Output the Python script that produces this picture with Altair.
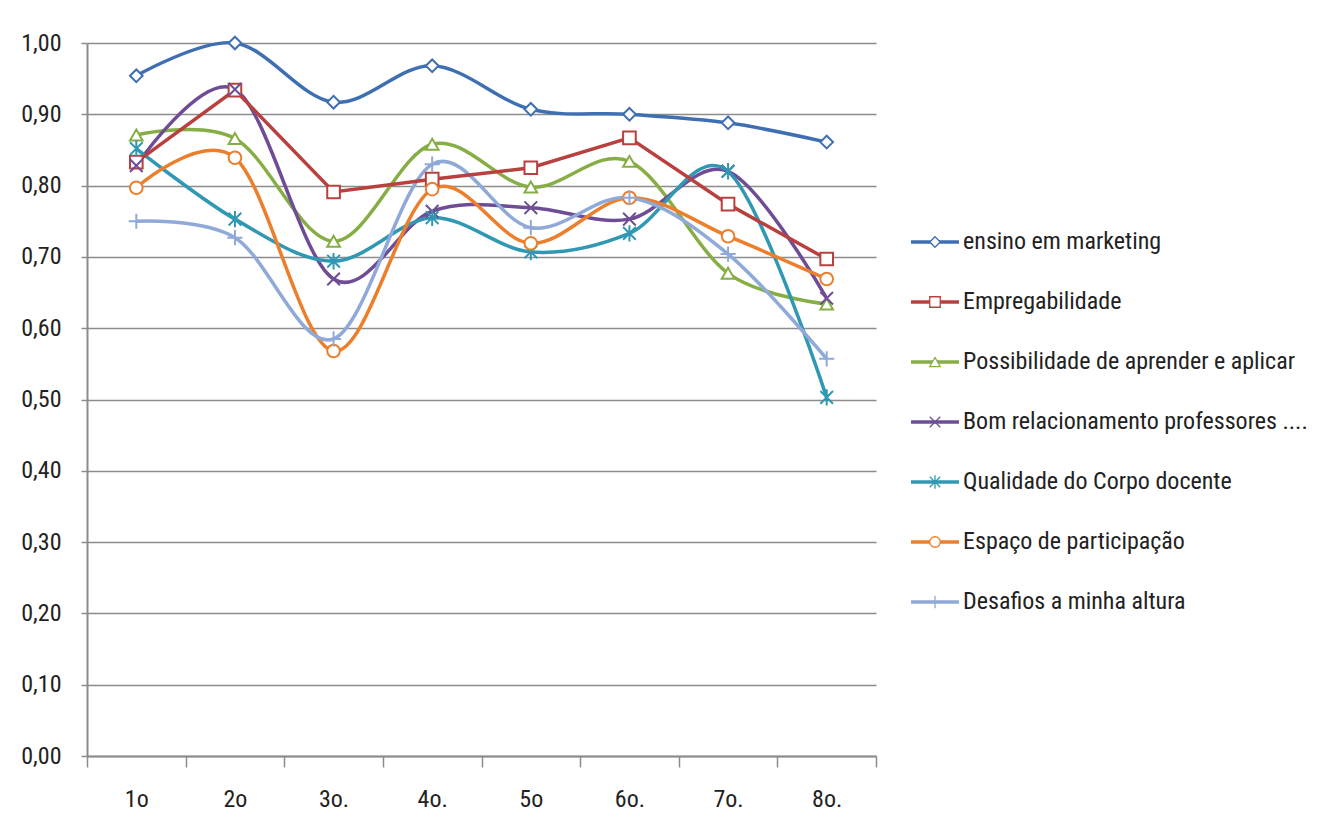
import altair as alt
import pandas as pd

categories = ["1o", "2o", "3o.", "4o.", "5o", "6o.", "7o.", "8o."]
series = [
    "ensino em marketing",
    "Empregabilidade",
    "Possibilidade de aprender e aplicar",
    "Bom relacionamento professores ....",
    "Qualidade do Corpo docente",
    "Espaço de participação",
    "Desafios a minha altura",
]
ensino = [0.954, 1.000, 0.917, 0.968, 0.907, 0.900, 0.888, 0.861]
empregabilidade = [0.833, 0.934, 0.791, 0.809, 0.825, 0.867, 0.774, 0.697]
possibilidade = [0.871, 0.866, 0.722, 0.858, 0.798, 0.834, 0.677, 0.634]
relacionamento = [0.828, 0.935, 0.669, 0.764, 0.769, 0.753, 0.820, 0.642]
qualidade = [0.852, 0.753, 0.694, 0.755, 0.707, 0.733, 0.820, 0.503]
espaco = [0.797, 0.839, 0.568, 0.795, 0.719, 0.783, 0.729, 0.669]
desafios = [0.750, 0.727, 0.585, 0.830, 0.741, 0.783, 0.704, 0.557]
values = [ensino, empregabilidade, possibilidade, relacionamento, qualidade, espaco, desafios]

colors = ["#3F6FB3", "#B8403E", "#86AE45", "#6E4D96", "#3098B3", "#EC7F2C", "#8FA9D8"]
widths = [3.5, 3.5, 5.5, 3.5, 3.5, 3.5, 3.5]
shapes = [
    "diamond",
    "square",
    "triangle-up",
    "M-1,-1L1,1M-1,1L1,-1",
    "M-1,-1L1,1M-1,1L1,-1M0,-1.3L0,1.3",
    "circle",
    "M-1.2,0L1.2,0M0,-1.2L0,1.2",
]

rows = []
for s, vals in zip(series, values):
    for c, v in zip(categories, vals):
        rows.append({"serie": s, "cat": c, "valor": v})
df = pd.DataFrame(rows)
leg = pd.DataFrame({"serie": series})

FONT = "Liberation Sans Narrow, Arial Narrow, Roboto Condensed, sans-serif"

color = alt.Color("serie:N", scale=alt.Scale(domain=series, range=colors), legend=None)
sw = alt.StrokeWidth("serie:N", scale=alt.Scale(domain=series, range=widths), legend=None)
shape = alt.Shape("serie:N", scale=alt.Scale(domain=series, range=shapes), legend=None)
stroke = alt.Stroke("serie:N", scale=alt.Scale(domain=series, range=colors), legend=None)

x = alt.X(
    "cat:O",
    sort=categories,
    bandPosition=0.5,
    scale=alt.Scale(type="band", paddingInner=0, paddingOuter=0),
    axis=alt.Axis(
        title=None, tickBand="extent", labelAngle=0, grid=False,
        tickSize=11, labelPadding=20, domainColor="#8c8c8c", tickColor="#8c8c8c",
        domainWidth=2, tickWidth=1.5, labelFontSize=24, labelFont=FONT, labelColor="#222222",
    ),
)
y = alt.Y(
    "valor:Q",
    scale=alt.Scale(domain=[0, 1], nice=False, zero=True),
    axis=alt.Axis(
        title=None, values=[i / 10 for i in range(11)],
        labelExpr="replace(format(datum.value, '.2f'), '.', ',')",
        tickSize=6, labelPadding=20, grid=True, gridColor="#8c8c8c", gridWidth=1.5,
        domainColor="#8c8c8c", tickColor="#8c8c8c", domainWidth=2, tickWidth=1.5,
        labelFontSize=24, labelFont=FONT, labelColor="#222222",
    ),
)

base = alt.Chart(df)
smooth = base.transform_filter(alt.datum.serie != "Empregabilidade").mark_line(
    interpolate="cardinal"
).encode(x=x, y=y, color=color, strokeWidth=sw, detail="serie:N")
straight = base.transform_filter(alt.datum.serie == "Empregabilidade").mark_line(
    interpolate="linear"
).encode(x=x, y=y, color=color, strokeWidth=sw)
pts = base.mark_point(filled=False, fill="white", fillOpacity=1, strokeWidth=2, size=160, opacity=1).encode(
    x=x, y=y, stroke=stroke, shape=shape
)

main = alt.layer(smooth, straight, pts).properties(width=789, height=713)

ly = alt.Y(
    "serie:N", sort=series, axis=None,
    scale=alt.Scale(type="band", domain=series, paddingInner=0, paddingOuter=0, range=[169, 589]),
)
lbase = alt.Chart(leg)
lrule = lbase.mark_rule().encode(
    y=ly, x=alt.value(12), x2=alt.value(60),
    color=color, strokeWidth=sw,
)
lpt = lbase.mark_point(filled=False, fill="white", fillOpacity=1, strokeWidth=1.3, size=110, opacity=1).encode(
    y=ly, x=alt.value(36), stroke=stroke, shape=shape,
)
ltxt = lbase.mark_text(align="left", baseline="middle", fontSize=24, font=FONT, color="#222222").encode(
    y=ly, x=alt.value(64), text="serie:N"
)
legend_panel = alt.layer(lrule, lpt, ltxt).properties(width=390, height=713)

chart = alt.hconcat(main, legend_panel, spacing=20).properties(
    padding={"left": 12, "top": 22, "right": 5, "bottom": 5},
    background="white",
).configure_view(stroke="transparent")

chart.save("out.html", embed_options={"renderer": "svg", "actions": False})
